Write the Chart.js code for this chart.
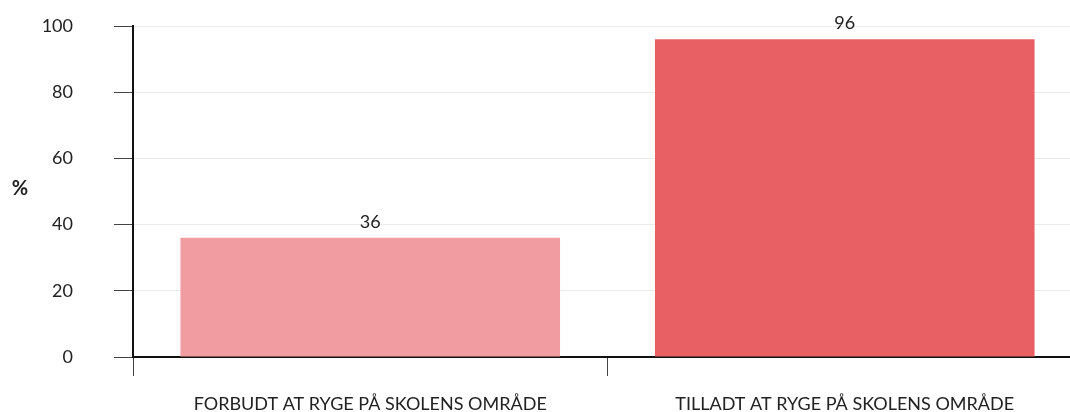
<!DOCTYPE html>
<html>
<head>
<meta charset="utf-8">
<script src="https://cdn.jsdelivr.net/npm/chart.js@4"></script>
<style>
    html, body { margin: 0; padding: 0; background: #fff; overflow: hidden; }
    #wrap { width: 1082px; height: 412px; position: relative; }
</style>
</head>
<body>
<div id="wrap"><canvas id="bar-chart"></canvas></div>
<script>
// Smoking at school: share of pupils, %
const categories = ['FORBUDT AT RYGE PÅ SKOLENS OMRÅDE', 'TILLADT AT RYGE PÅ SKOLENS OMRÅDE'];
const values = [36, 96];
const barColors = ['#f19ca0', '#e86063'];
const yTicks = [0, 20, 40, 60, 80, 100];

const FONT = 'Lato, "Open Sans", sans-serif';
const TEXT = '#222222';

// value labels above each bar
const valueLabels = {
    id: 'valueLabels',
    afterDatasetsDraw(chart) {
        const ctx = chart.ctx;
        const meta = chart.getDatasetMeta(0);
        ctx.save();
        ctx.font = '18px ' + FONT;
        ctx.fillStyle = TEXT;
        ctx.textAlign = 'center';
        ctx.textBaseline = 'bottom';
        meta.data.forEach((bar, i) => {
            ctx.fillText(values[i], bar.x, bar.y - 7);
        });
        ctx.restore();
    }
};

// horizontal "%" unit label left of the y axis
const unitLabel = {
    id: 'unitLabel',
    afterDraw(chart) {
        const ctx = chart.ctx;
        const area = chart.chartArea;
        ctx.save();
        ctx.font = 'bold 20px ' + FONT;
        ctx.fillStyle = TEXT;
        ctx.textAlign = 'center';
        ctx.textBaseline = 'middle';
        ctx.fillText('%', 20, (area.top + area.bottom) / 2 - 3);
        ctx.restore();
    }
};

new Chart(document.getElementById('bar-chart'), {
    type: 'bar',
    data: {
        labels: categories,
        datasets: [{
            data: values,
            backgroundColor: barColors,
            borderWidth: 0,
            barPercentage: 0.8,
            categoryPercentage: 1
        }]
    },
    options: {
        responsive: true,
        maintainAspectRatio: false,
        animation: false,
        layout: { padding: { top: 26, right: 0, bottom: 0, left: 0 } },
        plugins: {
            legend: { display: false },
            tooltip: { enabled: false }
        },
        scales: {
            x: {
                grid: {
                    drawOnChartArea: false,
                    tickLength: 19,
                    tickColor: '#444444',
                    tickWidth: 1
                },
                border: { color: '#111111', width: 2 },
                ticks: {
                    color: TEXT,
                    font: { family: FONT, size: 18 },
                    padding: 17,
                    maxRotation: 0
                },
                afterFit(scale) { scale.height = 55; }
            },
            y: {
                min: 0,
                max: 100,
                afterBuildTicks(scale) {
                    scale.ticks = yTicks.map(v => ({ value: v }));
                },
                grid: {
                    color: '#ebebeb',
                    tickLength: 19,
                    tickColor: '#444444',
                    lineWidth: 1
                },
                border: { color: '#111111', width: 2 },
                ticks: {
                    color: TEXT,
                    font: { family: FONT, size: 18 },
                    padding: 41
                },
                afterFit(scale) {
                    scale.width = 133;
                    scale.paddingTop = 0;
                    scale.paddingBottom = 0;
                }
            }
        }
    },
    plugins: [valueLabels, unitLabel]
});
</script>
</body>
</html>
